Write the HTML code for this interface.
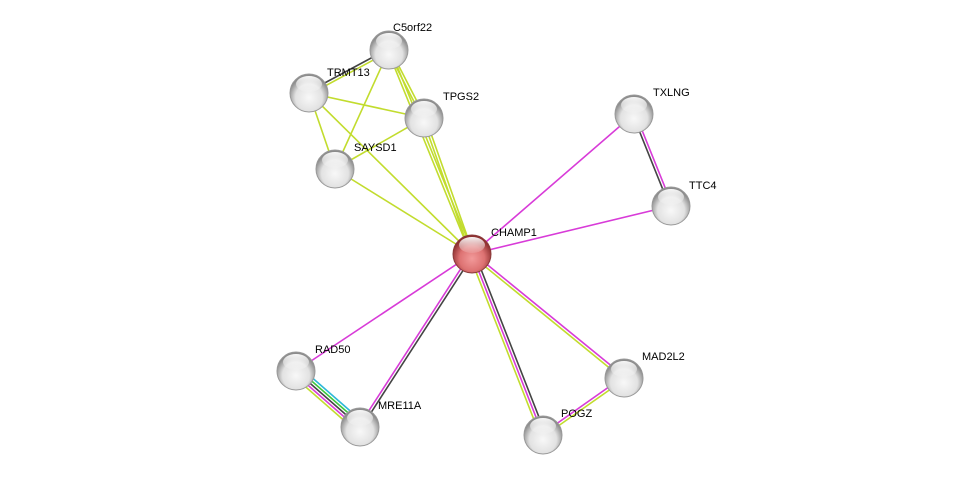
<!DOCTYPE html>
<html><head><meta charset="utf-8"><style>
html,body{margin:0;padding:0;background:#fff;}
svg{display:block;}
text{font-family:"Liberation Sans",sans-serif;font-size:11px;fill:#000;}
</style></head><body>
<svg id="s" width="976" height="481" viewBox="0 0 976 481" xmlns="http://www.w3.org/2000/svg">
<defs>
<radialGradient id="g" cx="50%" cy="62%" r="55%">
<stop offset="0" stop-color="#f8f8f8"/><stop offset="0.65" stop-color="#e2e2e2"/><stop offset="1" stop-color="#8c8c8c"/>
</radialGradient>
<radialGradient id="r" cx="50%" cy="62%" r="55%">
<stop offset="0" stop-color="#f29a9a"/><stop offset="0.6" stop-color="#dd7272"/><stop offset="1" stop-color="#8e3030"/>
</radialGradient>
<linearGradient id="h" x1="0" y1="0" x2="0" y2="1">
<stop offset="0" stop-color="#fff" stop-opacity="0.95"/><stop offset="1" stop-color="#fff" stop-opacity="0.1"/>
</linearGradient>
</defs>
<g id="edges"></g>
<g id="nodes"></g>
<text x="393" y="31">C5orf22</text>
<text x="327" y="76">TRMT13</text>
<text x="443" y="100">TPGS2</text>
<text x="354" y="151">SAYSD1</text>
<text x="653" y="96">TXLNG</text>
<text x="689" y="189">TTC4</text>
<text x="491" y="236">CHAMP1</text>
<text x="315" y="353">RAD50</text>
<text x="378" y="409">MRE11A</text>
<text x="642" y="360">MAD2L2</text>
<text x="561" y="417">POGZ</text>
</svg>
<script>
var N={C5:[389,50],TR:[309,93],TP:[424,118],SA:[335,169],TX:[634,114],TT:[671,206],CH:[472,254],RA:[296,371],MR:[360,427],MA:[624,378],PO:[543,435]};
var Y="#c2dc2e",M="#d83bd8",K="#444",C="#2bb8d8",G="#3cc83c";
var E=[["C5","TR",[Y,K]],["C5","TP",[Y,Y]],["C5","SA",[Y]],["C5","CH",[Y,Y]],["TR","TP",[Y]],["TR","SA",[Y]],["TR","CH",[Y]],["TP","SA",[Y]],["TP","CH",[Y,Y]],["SA","CH",[Y]],
["TX","CH",[M]],["TT","CH",[M]],["TX","TT",[M,K]],["CH","RA",[M]],["CH","MR",[K,M]],["CH","PO",[K,M,Y]],["CH","MA",[M,Y]],["MA","PO",[Y,M]],["RA","MR",[C,G,K,M,Y]]];
var ns="http://www.w3.org/2000/svg",eg=document.getElementById("edges"),ng=document.getElementById("nodes");
E.forEach(function(e){var a=N[e[0]],b=N[e[1]],dx=b[0]-a[0],dy=b[1]-a[1],L=Math.hypot(dx,dy),px=-dy/L,py=dx/L,n=e[2].length;
e[2].forEach(function(c,i){var o=(i-(n-1)/2)*2.8;var l=document.createElementNS(ns,"line");
l.setAttribute("x1",a[0]+px*o);l.setAttribute("y1",a[1]+py*o);l.setAttribute("x2",b[0]+px*o);l.setAttribute("y2",b[1]+py*o);
l.setAttribute("stroke",c);l.setAttribute("stroke-width","1.6");eg.appendChild(l);});});
for(var k in N){var p=N[k];var c=document.createElementNS(ns,"circle");c.setAttribute("cx",p[0]);c.setAttribute("cy",p[1]);c.setAttribute("r",19);
c.setAttribute("fill",k=="CH"?"url(#r)":"url(#g)");c.setAttribute("stroke",k=="CH"?"#8a3a3a":"#999");c.setAttribute("stroke-width","1");ng.appendChild(c);
var h=document.createElementNS(ns,"ellipse");h.setAttribute("cx",p[0]);h.setAttribute("cy",p[1]-9);h.setAttribute("rx",13);h.setAttribute("ry",8);h.setAttribute("fill","url(#h)");ng.appendChild(h);}
</script>
</body></html>
